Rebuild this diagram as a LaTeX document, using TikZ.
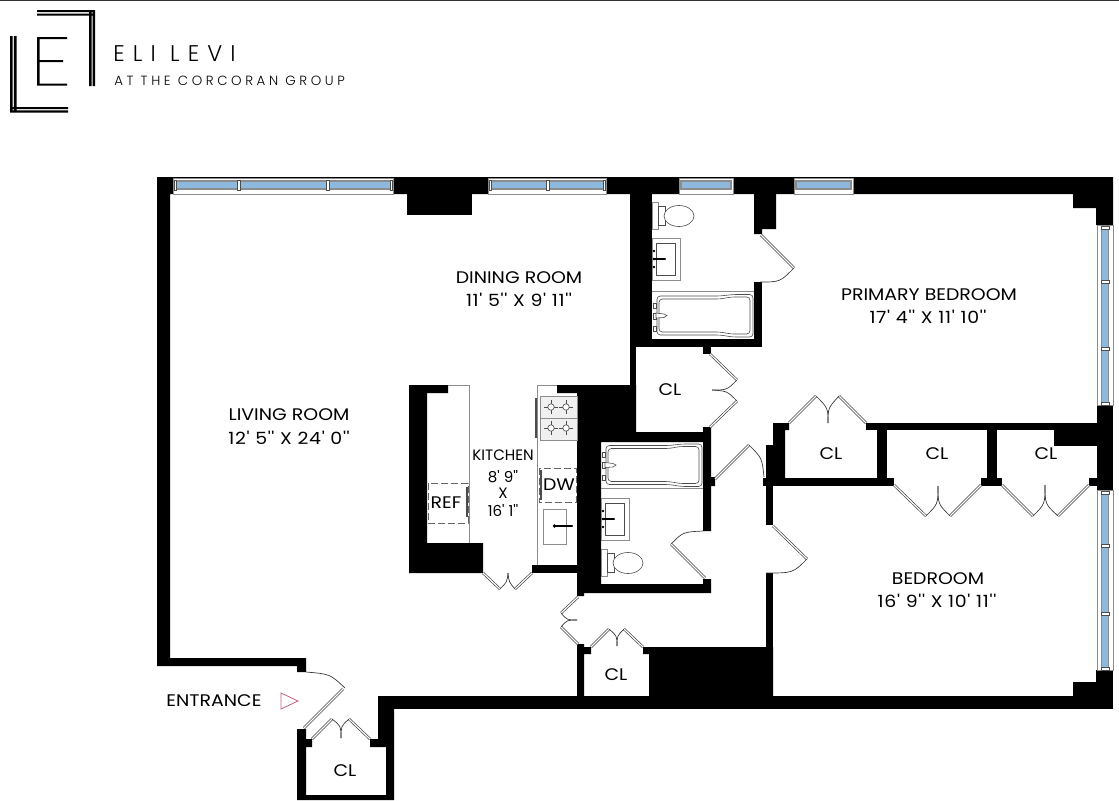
\documentclass[tikz,border=0pt]{standalone}
\usepackage{xcolor}
\usepackage{fontspec}
\usepackage{tikz}
\usetikzlibrary{calc}
\newfontfamily\planfont[FakeStretch=1.125]{Poppins}
\newfontfamily\sizefont[FakeStretch=1.125, LetterSpace=4]{Poppins}
\newfontfamily\kitchenfont{Poppins}
\newfontfamily\logofont[LetterSpace=36]{Poppins Light}
\newfontfamily\logosmall[LetterSpace=27]{Poppins Light}
\definecolor{glassblue}{HTML}{8DB9DE}
\definecolor{framegray}{HTML}{8C8C8C}
\definecolor{entryred}{HTML}{C4607A}
\tikzstyle{wall} = [fill=black, draw=none]
\tikzstyle{counter} = [draw=framegray, line width=.6pt]
\tikzstyle{leaf} = [draw=black!75, double=white, double distance=.9pt, line width=.5pt]
\tikzstyle{swing} = [draw=black!80, line width=.5pt]
\tikzstyle{fixture} = [draw=black!70, line width=.45pt]
\tikzstyle{hidden} = [draw=black!60, dash pattern=on 5pt off 2.5pt, line width=.6pt]
\tikzstyle{sash} = [fill=white, draw=framegray, line width=.6pt]
\tikzstyle{glass} = [fill=glassblue, draw=black!45, line width=1pt]
\tikzstyle{mullion} = [fill=white, draw=black!70, line width=.4pt]
\tikzstyle{room} = [draw=none, inner sep=0, font=\planfont\fontsize{12.6}{14}\selectfont]
\tikzstyle{roomsize} = [draw=none, inner sep=0, font=\sizefont\fontsize{12.6}{14}\selectfont]
\tikzstyle{kitchenlabel} = [draw=none, inner sep=0, font=\kitchenfont\fontsize{11.3}{13}\selectfont]
\tikzstyle{logobar} = [fill=black, draw=none]
\newcommand{\HWindow}[2]{
  \draw [sash] (#1,178) rectangle (#2,194);
  \draw [glass] ($(#1,181)+(2,0)$) rectangle ($(#2,189)-(2,0)$);
}
\newcommand{\VWindow}[2]{
  \draw [sash] (1097,#1) rectangle (1113,#2);
  \draw [glass] ($(1101.5,#1)+(0,2)$) rectangle ($(1108.5,#2)-(0,2)$);
}
\newcommand{\TubFix}[2]{
  \begin{scope}[shift={(#1,#2)}]
  \draw [fixture, rounded corners=2.5pt] (0,2) -- (63,2) -- (76,.5) -- (96,.5) -- (96,43) -- (76,43) -- (63,41) -- (0,41) -- cycle;
  \draw [fixture, rounded corners=2.5pt] (2,5) -- (63,5) -- (74,3) -- (93,3) -- (93,40) -- (74,40) -- (63,38) -- (2,38) -- cycle;
  \draw [fixture, fill=white] (-4,9) rectangle (-1,14) (-4,19) rectangle (-1,25) (-4,32) rectangle (-1,37);
  \draw [fixture, fill=white] (-1,19) -- (7,20) -- (10,21.5) -- (7,23.5) -- (-1,24) -- cycle;
  \end{scope}
}
\newcommand{\SinkFix}[2]{
  \begin{scope}[shift={(#1,#2)}]
  \draw [counter] (0,0) rectangle (28,42);
  \draw [fixture] (4,5) rectangle (23,37);
  \draw [draw=black, line width=.8pt] (1,21) -- (13,21);
  \fill [black] (13,21) circle (1.2) (2,13) circle (1.4) (2,21) circle (1.4) (2,29) circle (1.4);
  \end{scope}
}
\newcommand{\ToiletFix}[2]{
  \begin{scope}[shift={(#1,#2)}]
  \draw [counter] (0,0) rectangle (6,27);
  \draw [fixture] (6,4) -- (13,4) -- (13,23) -- (6,23) -- cycle;
  \draw [fixture, fill=white] (27,14) ellipse (15 and 10.5);
  \end{scope}
}
\newcommand{\BurnerFix}[2]{
  \draw [fixture] ($(#1,#2)+(-7,0)$) -- ($(#1,#2)+(7,0)$) ($(#1,#2)+(0,-7)$) -- ($(#1,#2)+(0,7)$);
  \draw [fixture, fill=white] (#1,#2) circle (3.2);
}
\begin{document}
\begin{tikzpicture}[x=.75pt, y=-.75pt]
\useasboundingbox (0,0) rectangle (1119,800);
\fill [black!80] (0,0) rectangle (1119,1);
%logo
\fill [logobar] (10,36) rectangle (12.6,112.5) (13.9,36) rectangle (16.6,112.5) (10,107) rectangle (68,109) (10,110.3) rectangle (68,112.5);
\fill [logobar] (37,10) rectangle (95,12.2) (37,13.5) rectangle (95,15.7) (89,10) rectangle (91.5,86) (92.7,10) rectangle (95,86);
\fill [logobar] (37,37) rectangle (39.5,85.5) (37,37) rectangle (67,39) (37,60) rectangle (63,62) (37,83.5) rectangle (67,85.5);
\node [draw=none, inner sep=0, anchor=west, font=\logofont\fontsize{17}{19}\selectfont] (eli) at (113,54) {ELI LEVI};
\node [draw=none, inner sep=0, anchor=west, font=\logosmall\fontsize{10}{12}\selectfont] (group) at (114,81) {AT THE CORCORAN GROUP};
%outer walls
\fill [wall] (157,177) -- (1113,177) -- (1113,225) -- (1096,225) -- (1096,208) -- (1073,208) -- (1073,194) -- (170,194) -- (170,658) -- (306,658) -- (306,672) -- (297,672) -- (297,666) -- (157,666) -- cycle;
\fill [wall] (407,190) rectangle (472,215);
\fill [wall] (1097,405) rectangle (1113,490);
\fill [wall] (378,696) rectangle (1113,709);
\fill [wall] (1096,670) rectangle (1113,709);
\fill [wall] (1073,682) rectangle (1097,696);
\fill [wall] (378,696) -- (378,739) -- (370,739) -- (370,747) -- (386,747) -- (386,795) -- (306,795) -- (306,747) -- (312,747) -- (312,739) -- (306,739) -- (306,729) -- (297,729) -- (297,800) -- (394,800) -- (394,696) -- cycle;
%upper bath and closet
\fill [wall] (630,190) rectangle (652,347);
\fill [wall] (630,339) rectangle (762,347);
\fill [wall] (754,282) rectangle (762,347);
\fill [wall] (630,345) rectangle (636,385);
\fill [wall] (703,345) rectangle (711,354);
\fill [wall] (754,190) -- (776,190) -- (776,229) -- (762,229) -- (762,234) -- (754,234) -- cycle;
%lower bath core
\fill [wall] (557,385) -- (636,385) -- (636,432) -- (703,432) -- (703,427) -- (711,427) -- (711,477) -- (715,477) -- (715,486) -- (711,486) -- (711,531) -- (703,531) -- (703,442) -- (601,442) -- (601,584) -- (703,584) -- (703,579) -- (711,579) -- (711,593) -- (584,593) -- (584,596) -- (577,596) -- (577,393) -- (557,393) -- cycle;
\fill [wall] (532,565) rectangle (578,573);
%kitchen
\fill [wall] (409,385) -- (448,385) -- (448,393) -- (427,393) -- (427,543) -- (483,543) -- (483,573) -- (409,573) -- cycle;
\draw [counter] (448,385) -- (469,385) -- (469,543);
\draw [counter] (557,385) -- (537,385) -- (537,565);
%hall closet
\fill [wall] (577,644) -- (584,644) -- (584,647) -- (591,647) -- (591,654) -- (584,654) -- (584,698) -- (577,698) -- cycle;
\fill [wall] (643,647) -- (773,647) -- (773,698) -- (649,698) -- (649,654) -- (643,654) -- cycle;
\fill [wall] (766,573) rectangle (773,650);
%bedroom closets
\fill [wall] (766,445) rectangle (773,525);
\fill [wall] (773,423) -- (789,423) -- (789,430) -- (785,430) -- (785,480) -- (773,480) -- cycle;
\fill [wall] (763,478) rectangle (894,486);
\fill [wall] (866,423) rectangle (1099,430);
\fill [wall] (877,428) rectangle (887,480);
\fill [wall] (987,428) rectangle (997,480);
\fill [wall] (981,478) rectangle (1002,486);
\fill [wall] (1089,478) rectangle (1099,486);
\fill [wall] (1054,428) rectangle (1099,446);
%windows
\HWindow{173}{393}
\HWindow{488}{606}
\HWindow{679}{733}
\HWindow{794}{853}
\VWindow{225}{405}
\VWindow{490}{670}
\draw [mullion] (174,180) rectangle (176,190) (237,180) rectangle (240,190) (326,180) rectangle (329,190) (390,180) rectangle (392,190);
\draw [mullion] (489,180) rectangle (491,190) (546,180) rectangle (549,190) (603,180) rectangle (605,190);
\draw [mullion] (1101,226) rectangle (1109,229) (1101,280.5) rectangle (1109,283.5) (1101,347.5) rectangle (1109,350.5) (1101,402) rectangle (1109,405);
\draw [mullion] (1101,491) rectangle (1109,494) (1101,544) rectangle (1109,547) (1101,612) rectangle (1109,615) (1101,667) rectangle (1109,670);
%doors
\draw [leaf] (304,728) -- (343,689);
\draw [swing] (306,672) .. controls (330,674) .. (345,688);
\draw [leaf] (312,739) -- (332,719);
\draw [leaf] (370,739) -- (349,719);
\draw [swing] (332,719) .. controls (341,726) .. (341,738);
\draw [swing] (349,719) .. controls (341,726) .. (341,738);
\draw [leaf] (761,235) -- (794,268);
\draw [swing] (794,268) .. controls (780,282) .. (760,282);
\draw [leaf] (710,354) -- (737,380);
\draw [leaf] (710,427) -- (737,401);
\draw [swing] (737,380) .. controls (727,390) .. (712,390);
\draw [swing] (737,401) .. controls (727,391) .. (712,390);
\draw [leaf] (715,479) -- (749,445);
\draw [swing] (749,445) .. controls (762,458) .. (764,477);
\draw [leaf] (705,578) -- (671,544);
\draw [swing] (671,544) .. controls (683,532) .. (703,531);
\draw [leaf] (773,526) -- (807,559);
\draw [swing] (807,559) .. controls (793,573) .. (766,573);
\draw [leaf] (483,573) -- (500,589);
\draw [leaf] (532,573) -- (515,589);
\draw [swing] (500,589) .. controls (507,582) .. (508,573);
\draw [swing] (515,589) .. controls (509,582) .. (508,573);
\draw [leaf] (578,597) -- (561,613);
\draw [leaf] (578,644) -- (561,627);
\draw [swing] (561,613) .. controls (567,620) .. (577,620);
\draw [swing] (561,627) .. controls (567,620) .. (577,620);
\draw [leaf] (591,647) -- (609,629);
\draw [leaf] (643,647) -- (624,629);
\draw [swing] (609,629) .. controls (617,636) .. (617,646);
\draw [swing] (624,629) .. controls (617,636) .. (617,646);
\draw [leaf] (789,423) -- (816,396);
\draw [leaf] (866,423) -- (839,396);
\draw [swing] (816,396) .. controls (828,408) .. (828,423);
\draw [swing] (839,396) .. controls (828,408) .. (828,423);
\draw [leaf] (894,485) -- (926,516);
\draw [leaf] (981,485) -- (950,516);
\draw [swing] (926,516) .. controls (938,504) .. (938,486);
\draw [swing] (950,516) .. controls (938,504) .. (938,486);
\draw [leaf] (1002,485) -- (1033,516);
\draw [leaf] (1089,485) -- (1058,516);
\draw [swing] (1033,516) .. controls (1045,504) .. (1045,485);
\draw [swing] (1058,516) .. controls (1045,504) .. (1045,485);
%fixtures
\draw [counter] (652,291) -- (754,291);
\draw [counter] (601,488) -- (703,488);
\TubFix{657}{294}
\TubFix{606}{443.5}
\SinkFix{652}{238}
\SinkFix{601}{498}
\ToiletFix{652}{202}
\ToiletFix{601}{549}
\draw [counter, fill=black!6] (540,396) rectangle (577,440);
\draw [counter] (540,418) -- (577,418);
\BurnerFix{551}{407}
\BurnerFix{566}{407}
\BurnerFix{551}{428}
\BurnerFix{566}{428}
\draw [fixture, line width=1pt] (536,398) -- (536,438);
\draw [hidden] (539,468) rectangle (576,502);
\draw [fixture, line width=.9pt] (541,470) -- (541,500);
\draw [counter] (543,509) rectangle (566,544);
\draw [draw=black, line width=.8pt] (554.5,526) -- (572,526);
\fill [black] (554.5,526) circle (1.8) (572,526) circle (1.2);
\draw [hidden] (428,483) rectangle (468,523);
\draw [fixture, line width=.9pt] (467,487) -- (467,517);
\draw [draw=entryred, line width=.6pt] (281,693) -- (298,701) -- (281,709) -- cycle;
%labels
\node [room] (dining) at (519,278) {DINING ROOM};
\node [roomsize] (diningsize) at (519,300) {11' 5'' X 9' 11''};
\node [room] (primary) at (929,295) {PRIMARY BEDROOM};
\node [roomsize] (primarysize) at (928,317) {17' 4'' X 11' 10''};
\node [room] (living) at (289,415) {LIVING ROOM};
\node [roomsize] (livingsize) at (289,438) {12' 5'' X 24' 0''};
\node [room] (bedroom) at (938,579) {BEDROOM};
\node [roomsize] (bedroomsize) at (937,601) {16' 9'' X 10' 11''};
\node [kitchenlabel] (kitchen) at (503,455) {KITCHEN};
\node [kitchenlabel] (kitchenw) at (503,477) {8' 9''};
\node [kitchenlabel] (kitchenx) at (503,493) {X};
\node [kitchenlabel] (kitchenl) at (503,511) {16' 1''};
\node [room] (ref) at (446,503) {REF};
\node [room] (dw) at (559,485) {DW};
\node [room] (entrance) at (214,701) {ENTRANCE};
\node [room] (clhall) at (670,390) {CL};
\node [room] (clprimary) at (831,454) {CL};
\node [room] (clbedone) at (937,454) {CL};
\node [room] (clbedtwo) at (1046,454) {CL};
\node [room] (cllinen) at (616,675) {CL};
\node [room] (clcoat) at (345,771) {CL};
\end{tikzpicture}
\end{document}
